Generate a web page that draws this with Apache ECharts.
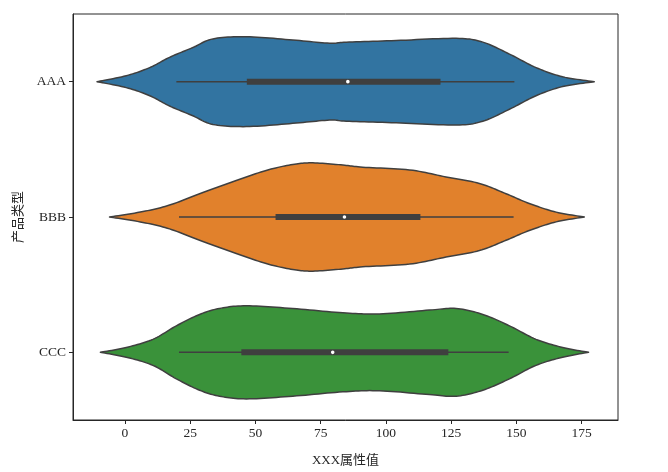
<!DOCTYPE html>
<html><head><meta charset="utf-8">
<script src="https://cdn.jsdelivr.net/npm/echarts@6/dist/echarts.min.js"></script>
<style>html,body{margin:0;padding:0;background:#fff}#c{width:668px;height:472px}</style>
</head><body><div id="c"></div>
<script>
const categories = ['AAA', 'BBB', 'CCC'];
const colors = ['#3274a1', '#e1812c', '#3a923a'];
const xTicks = [0, 25, 50, 75, 100, 125, 150, 175];
// density profiles: x value and relative density (widest = 1)
const aaaX = [-10.7, 0.5, 9.5, 17.1, 26, 33.7, 46.5, 64.3, 78.4, 84.8, 103.9, 126.9, 137.1, 147.3, 157.5, 167.7, 179.8];
const aaaD = [0, 0.11, 0.26, 0.45, 0.63, 0.79, 0.83, 0.77, 0.71, 0.73, 0.76, 0.80, 0.73, 0.51, 0.26, 0.09, 0];
const bbbX = [-5.9, 6.9, 17.1, 28.6, 41.3, 54.1, 64.3, 72, 83.5, 91.1, 109, 123, 135.8, 146, 154.9, 165.2, 176];
const bbbD = [0, 0.10, 0.22, 0.43, 0.65, 0.86, 0.97, 1.0, 0.96, 0.92, 0.87, 0.74, 0.62, 0.43, 0.25, 0.09, 0];
const cccX = [-9.4, 0.5, 10.7, 19.7, 28.6, 36.2, 46.5, 64.3, 83.5, 97.5, 116.6, 126.9, 137.1, 147.3, 157.5, 167.7, 177.6];
const cccD = [0, 0.09, 0.24, 0.49, 0.70, 0.81, 0.86, 0.81, 0.73, 0.71, 0.78, 0.81, 0.70, 0.49, 0.24, 0.09, 0];
// box statistics: whisker low, Q1, median, Q3, whisker high
const whiskerLow = [19.7, 20.7, 20.7];
const q1 = [46.7, 57.7, 44.6];
const median = [85.4, 84.1, 79.6];
const q3 = [120.9, 113.2, 123.9];
const whiskerHigh = [149.2, 148.9, 147];

const profX = [aaaX, bbbX, cccX];
const profD = [aaaD, bbbD, cccD];

const chart = echarts.init(document.getElementById('c'), null, {renderer: 'canvas'});
const font = "'Liberation Serif', 'DejaVu Serif', 'Noto Sans CJK SC', serif";
const dark = '#3f3f3f';
const ink = '#262626';

// Catmull-Rom smoothing of a pixel polyline (open curve)
function smoothLine(p, steps) {
  const out = [];
  for (let k = 0; k < p.length - 1; k++) {
    const p0 = p[Math.max(k - 1, 0)], p1 = p[k], p2 = p[k + 1], p3 = p[Math.min(k + 2, p.length - 1)];
    for (let s = 0; s < steps; s++) {
      const t = s / steps, t2 = t * t, t3 = t2 * t;
      const f = (a, b, c, d) => 0.5 * ((2 * b) + (-a + c) * t + (2 * a - 5 * b + 4 * c - d) * t2 + (-a + 3 * b - 3 * c + d) * t3);
      out.push([f(p0[0], p1[0], p2[0], p3[0]), f(p0[1], p1[1], p2[1], p3[1])]);
    }
  }
  out.push(p[p.length - 1]);
  return out;
}

function renderItem(params, api) {
  const i = params.dataIndex;
  const band = api.size([0, 1])[1];
  const scale = band * 0.4;
  const xs = profX[i], ds = profD[i];
  const upper = [], lower = [];
  for (let k = 0; k < xs.length; k++) {
    const p = api.coord([xs[k], i]);
    upper.push([p[0], p[1] - ds[k] * scale]);
    lower.push([p[0], p[1] + ds[k] * scale]);
  }
  const su = smoothLine(upper, 12);
  const sl = smoothLine(lower, 12);
  const pts = su.concat(sl.slice(1, -1).reverse());
  const c = api.coord([median[i], i]);
  const wl = api.coord([whiskerLow[i], i]);
  const wh = api.coord([whiskerHigh[i], i]);
  const a = api.coord([q1[i], i]);
  const b = api.coord([q3[i], i]);
  return {
    type: 'group',
    children: [
      {type: 'polygon', shape: {points: pts},
       style: {fill: colors[i], stroke: dark, lineWidth: 1.5, lineJoin: 'round'}},
      {type: 'line', shape: {x1: wl[0], y1: wl[1], x2: wh[0], y2: wh[1]},
       style: {stroke: dark, lineWidth: 1.5}},
      {type: 'rect', shape: {x: a[0], y: a[1] - 3, width: b[0] - a[0], height: 6},
       style: {fill: dark}},
      {type: 'circle', shape: {cx: c[0], cy: c[1], r: 1.8},
       style: {fill: '#ffffff'}}
    ]
  };
}

chart.setOption({
  animation: false,
  backgroundColor: '#ffffff',
  grid: {left: 73, right: 50, top: 14, bottom: 52, show: true,
         borderColor: ink, borderWidth: 1, backgroundColor: 'transparent'},
  xAxis: {
    type: 'value', min: -19.9, max: 188.9,
    name: 'XXX属性值', nameLocation: 'middle', nameGap: 34,
    nameTextStyle: {fontFamily: font, fontSize: 13, color: ink},
    axisLine: {show: true, onZero: false, lineStyle: {color: ink}},
    axisTick: {show: true, length: 4, customValues: xTicks, lineStyle: {color: ink}},
    axisLabel: {customValues: xTicks, fontFamily: font, fontSize: 13.5, color: ink, margin: 7},
    splitLine: {show: false}
  },
  yAxis: {
    type: 'category', data: categories, inverse: true,
    name: '产品类型', nameLocation: 'middle', nameGap: 48,
    nameTextStyle: {fontFamily: font, fontSize: 13, color: ink},
    axisLine: {show: true, onZero: false, lineStyle: {color: ink}},
    axisTick: {show: true, length: 4, alignWithLabel: true, lineStyle: {color: ink}},
    axisLabel: {fontFamily: font, fontSize: 13.5, color: ink, margin: 7},
    splitLine: {show: false}
  },
  series: [{
    type: 'custom',
    renderItem: renderItem,
    encode: {x: 0, y: 1},
    data: categories.map((c, i) => [median[i], i])
  }]
});
</script></body></html>
